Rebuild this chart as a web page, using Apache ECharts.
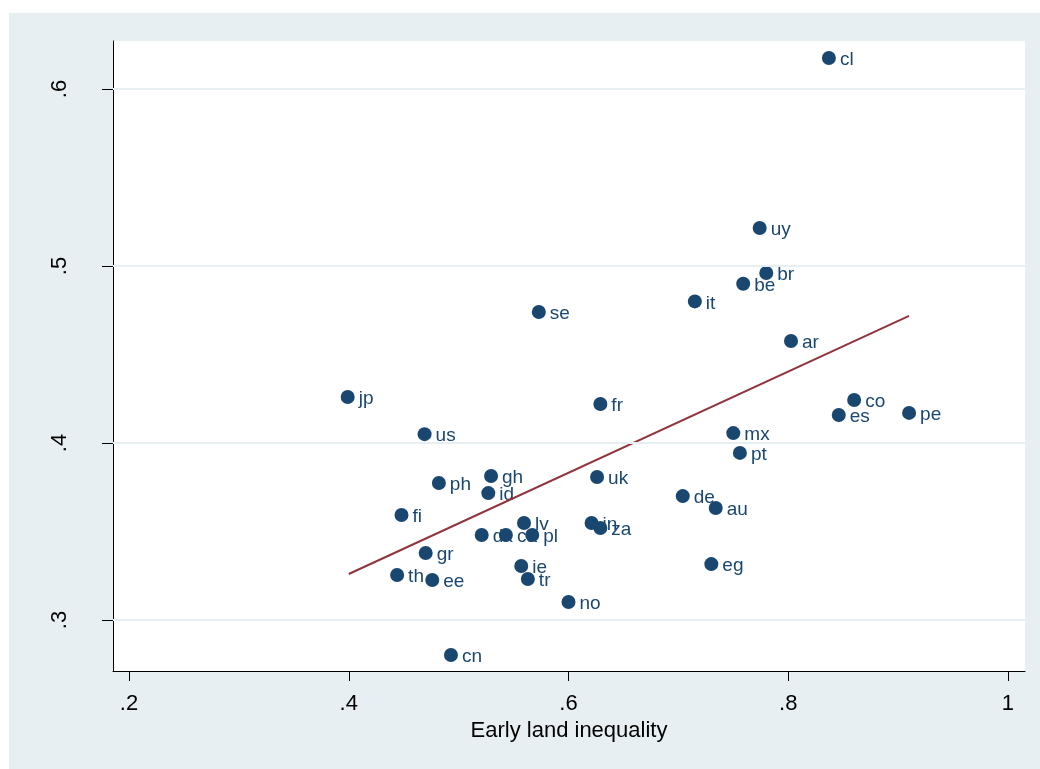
<!DOCTYPE html>
<html><head><meta charset="utf-8">
<script src="https://cdn.jsdelivr.net/npm/echarts@6/dist/echarts.min.js"></script>
<style>html,body{margin:0;padding:0;background:#fff}#c{width:1040px;height:769px}</style>
</head><body><div id="c"></div>
<script>
const countries = ['cl','uy','br','be','it','se','ar','jp','co','fr','pe','es','us','mx','pt','gh','uk','ph','id','de','au','fi','lv','in','za','dk','ca','pl','gr','ie','eg','th','ee','tr','no','cn'];
const landIneq = [0.837,0.774,0.780,0.759,0.715,0.573,0.8025,0.399,0.860,0.629,0.910,0.846,0.469,0.750,0.756,0.5295,0.626,0.482,0.527,0.704,0.734,0.448,0.5595,0.621,0.629,0.521,0.543,0.567,0.470,0.557,0.730,0.444,0.476,0.563,0.600,0.493];
const outcome = [0.6175,0.5215,0.496,0.490,0.480,0.474,0.4576,0.426,0.4243,0.422,0.417,0.4158,0.405,0.4056,0.3944,0.3814,0.3808,0.3774,0.3717,0.370,0.3633,0.3593,0.3548,0.3548,0.352,0.348,0.348,0.348,0.3379,0.3305,0.3316,0.3254,0.3226,0.3232,0.3102,0.2802];
const fitX = [0.400, 0.910];
const fitY = [0.326, 0.4718];
const xTicks = [0.2, 0.4, 0.6, 0.8, 1.0];
const yTicks = [0.3, 0.4, 0.5, 0.6];
const xTitle = 'Early land inequality';

const fmt = v => { const s = (+v.toFixed(2)).toString(); return s.startsWith('0') ? s.slice(1) : s; };
const chart = echarts.init(document.getElementById('c'), null, {renderer:'canvas'});
const pts = landIneq.map((x,i)=>[x, outcome[i], countries[i]]);
const navy = '#1a476f';
const bg = '#e8eff2';
chart.setOption({
  backgroundColor: '#ffffff',
  animation: false,
  graphic: [{type:'rect', z:-10, shape:{x:9,y:13,width:1031,height:756}, style:{fill:bg}, silent:true}],
  grid: {left:113, top:41, right:15, bottom:98, show:true, backgroundColor:'#ffffff', borderWidth:0},
  xAxis: {
    type:'value', min:0.1854, max:1.0155,
    name: xTitle, nameLocation:'middle', nameGap:49,
    nameTextStyle:{fontFamily:'Liberation Sans, Arial', fontSize:22, color:'#000'},
    axisLine:{show:true, onZero:false, lineStyle:{color:'#000', width:1}},
    axisTick:{show:true, length:10, lineStyle:{color:'#000'}, customValues: xTicks},
    axisLabel:{fontFamily:'Liberation Sans, Arial', fontSize:22, color:'#000', margin:22, customValues: xTicks, formatter: fmt},
    splitLine:{show:false}
  },
  yAxis: {
    type:'value', min:0.2712, max:0.6271,
    axisLine:{show:true, onZero:false, lineStyle:{color:'#000', width:1}},
    axisTick:{show:true, length:11, lineStyle:{color:'#000'}, customValues: yTicks},
    axisLabel:{fontFamily:'Liberation Sans, Arial', fontSize:22, color:'#000', rotate:90, margin:42, customValues: yTicks, formatter: fmt, align:'center', verticalAlign:'bottom'},
    splitLine:{show:false}
  },
  series: [
    {
      type:'line', data:[], silent:true,
      markLine:{silent:true, symbol:'none', label:{show:false}, lineStyle:{color:bg, width:2, type:'solid'},
        data: yTicks.map(v=>({yAxis:v}))}, z:1
    },
    {
      type:'scatter', data: pts, symbolSize:14, itemStyle:{color:navy, opacity:1}, z:3,
      label:{show:true, position:'right', distance:4, offset:[0,2], formatter: p=>p.data[2], color:navy, fontFamily:'Liberation Sans, Arial', fontSize:19}
    },
    {
      type:'line', data: fitX.map((x,i)=>[x, fitY[i]]), showSymbol:false, symbol:'none',
      lineStyle:{color:'#90353b', width:2}, z:4
    }
  ]
});
</script></body></html>
